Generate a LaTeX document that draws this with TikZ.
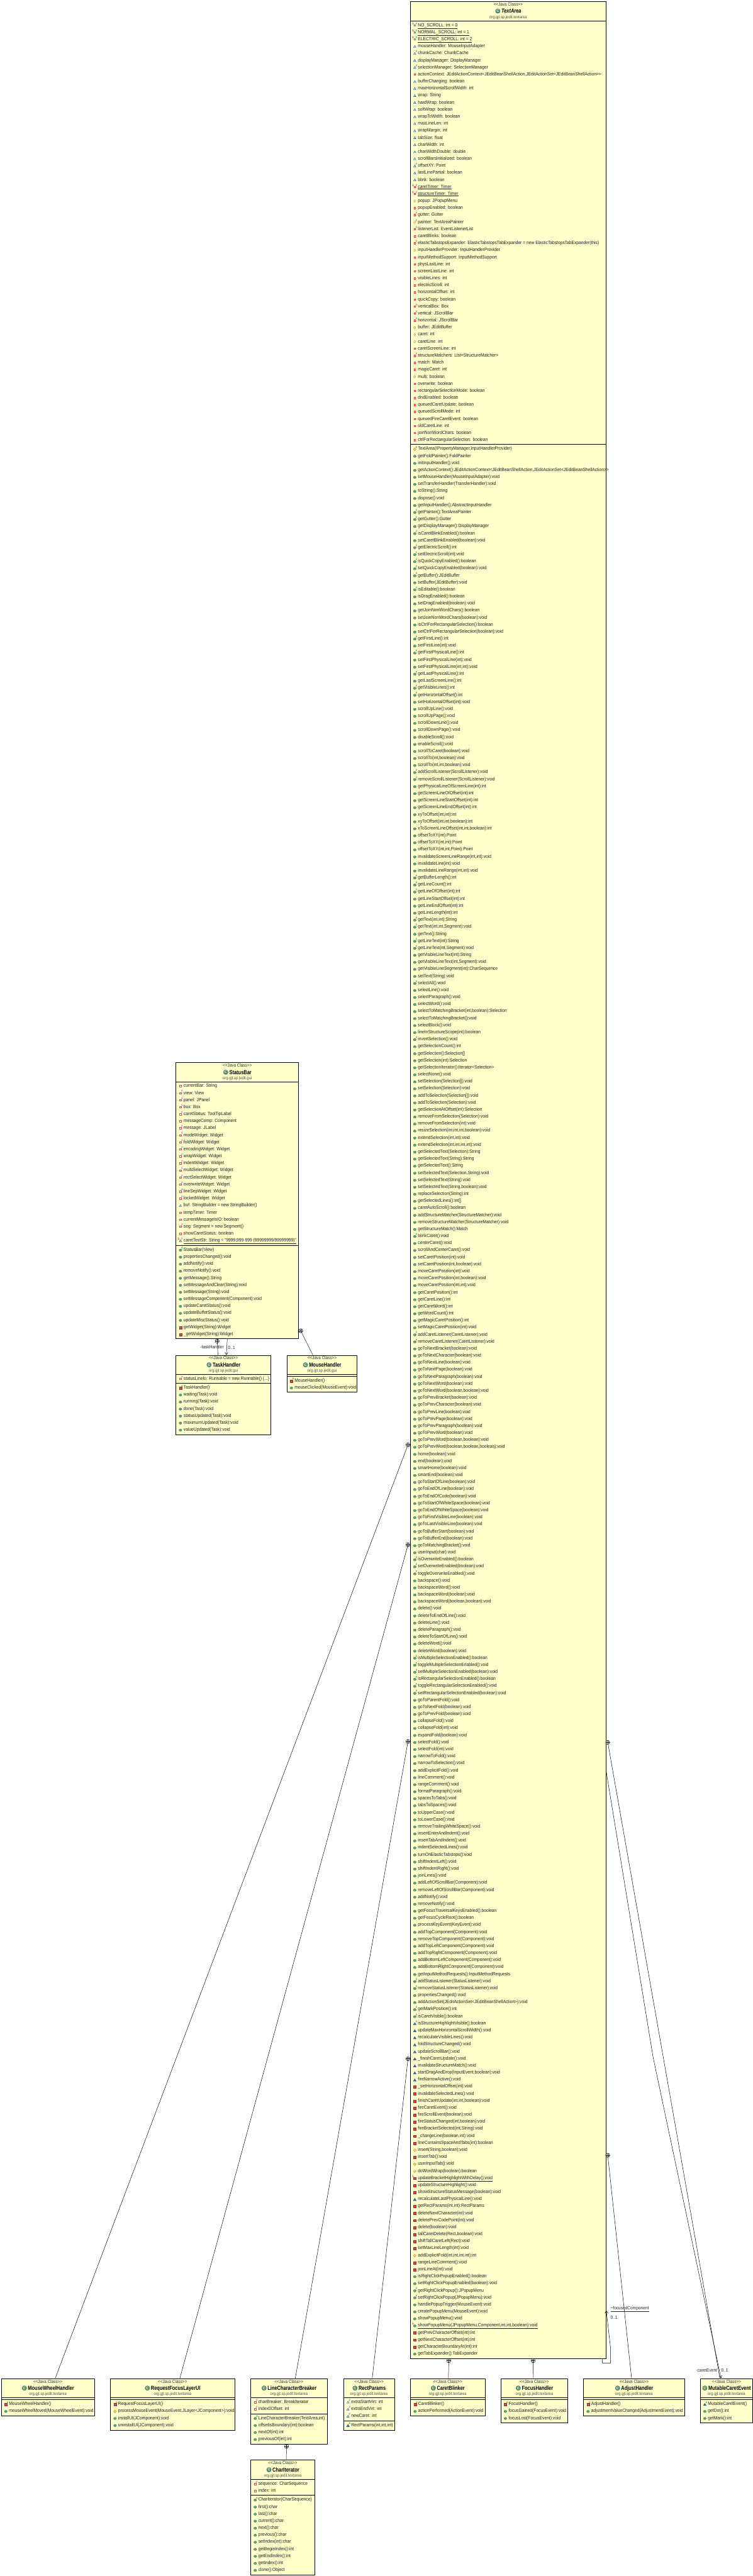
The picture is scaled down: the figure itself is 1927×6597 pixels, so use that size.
\documentclass[tikz,border=0pt]{standalone}
\usepackage{fontspec}
\setmainfont{Liberation Sans}
\usetikzlibrary{arrows.meta}

\definecolor{boxyellow}{RGB}{255,255,204}
\definecolor{pubgreen}{RGB}{96,164,124}
\definecolor{pubedge}{RGB}{44,120,84}
\definecolor{prired}{RGB}{226,64,84}
\definecolor{priedge}{RGB}{176,32,56}
\definecolor{pkgblue}{RGB}{44,110,180}
\definecolor{proorange}{RGB}{250,204,100}
\definecolor{proedge}{RGB}{200,140,30}
\definecolor{flagblue}{RGB}{40,90,190}
\definecolor{flagred}{RGB}{200,0,80}
\definecolor{flaggreen}{RGB}{0,140,70}

\tikzset{
  classbox/.style={draw, line width=1.2pt, fill=boxyellow, anchor=north west, inner sep=0pt},
  classline/.style={line width=1.1pt},
  membertext/.style={anchor=base west, inner sep=0pt, text=black!88, font=\fontsize{10.8}{12}\selectfont},
  kindtext/.style={anchor=base, inner sep=0pt, text=black!80, font=\fontsize{10.3}{12}\selectfont},
  titletext/.style={anchor=base, inner sep=0pt, font=\fontsize{12}{14}\selectfont\bfseries},
  pkgtext/.style={anchor=base, inner sep=0pt, text=black!70, font=\fontsize{9.5}{11}\selectfont},
  classicon/.style={circle, draw=pubedge, fill=pubgreen!85!black, inner sep=0pt, minimum size=12pt, text=white, font=\fontsize{9}{9}\selectfont\bfseries},
  iconflag/.style={inner sep=0pt, font=\fontsize{7.5}{8}\selectfont},
  nestmark/.style={circle, draw, inner sep=0pt, minimum size=10.5pt, line width=0.8pt,
    path picture={\draw [line width=0.7pt] (path picture bounding box.north) -- (path picture bounding box.south)
      (path picture bounding box.west) -- (path picture bounding box.east);}},
  nestline/.style={line width=0.8pt},
  assocline/.style={line width=0.8pt, -{Straight Barb[length=6pt,width=8pt]}},
  linklabel/.style={inner sep=0pt, text=black!85, font=\fontsize{10.6}{12}\selectfont},
}

\newcommand{\vstretch}[1]{\scalebox{1}[1.12]{#1}}

% method icons
\newcommand{\icoum}{\filldraw [fill=pubgreen, draw=pubedge, line width=0.5pt] (0,1.5) circle [x radius=3.6, y radius=3.1];}
\newcommand{\icopm}{\filldraw [fill=prired, draw=priedge, line width=0.5pt] (-3.2,-1.6) rectangle (3.2,4.6);}
\newcommand{\icokm}{\filldraw [fill=pkgblue, draw=pkgblue!80!black, line width=0.5pt] (-3.8,4.6) -- (0,-1.5) -- (3.8,4.6) -- cycle;}
\newcommand{\icoom}{\filldraw [fill=proorange, draw=proedge, line width=0.5pt] (-3.8,1.5) -- (0,-2.3) -- (3.8,1.5) -- (0,5.3) -- cycle;}
% field icons
\newcommand{\icopf}{\filldraw [fill=white, draw=prired, line width=1.2pt] (-2,-1) rectangle (2,3);}
\newcommand{\icokf}{\filldraw [fill=white, draw=pkgblue, line width=1pt] (-2.8,3.2) -- (0,-1.6) -- (2.8,3.2) -- cycle;}
\newcommand{\icoof}{\filldraw [fill=white, draw=proedge, line width=0.8pt] (-2.8,1) -- (0,-2) -- (2.8,1) -- (0,4) -- cycle;}
\newcommand{\icouf}{\filldraw [fill=white, draw=pubedge, line width=1pt] (0,1) circle [radius=2.3];}
% flags
\newcommand{\flagF}{\node (\rowid-F) [iconflag, text=flagblue] at (4.6,-3.6) {F};}
\newcommand{\flagS}{\node (\rowid-S) [iconflag, text=flagred] at (-4.6,-3.6) {S};}
\newcommand{\flagC}{\node (\rowid-C) [iconflag, text=flaggreen, font=\fontsize{7.5}{8}\selectfont\bfseries] at (4.6,-3.6) {c};}
% icon plus flags
\newcommand{\icopfF}{\icopf\flagF}
\newcommand{\icokfF}{\icokf\flagF}
\newcommand{\icoofF}{\icoof\flagF}
\newcommand{\icopfSF}{\icopf\flagS\flagF}
\newcommand{\icokfSF}{\icokf\flagS\flagF}
\newcommand{\icoufSF}{\icouf\flagS\flagF}
\newcommand{\icoumF}{\icoum\flagF}
\newcommand{\icoumC}{\icoum\flagC}
\newcommand{\icoumS}{\icoum\flagS}
\newcommand{\icokmF}{\icokm\flagF}
\newcommand{\icokmC}{\icokm\flagC}
\newcommand{\icopmC}{\icopm\flagC}
\newcommand{\icopmS}{\icopm\flagS}
\newcommand{\icoomC}{\icoom\flagC}

% name, left, top, width, height, title, package
\newcommand{\classbox}[7]{
  \node (#1) [classbox, minimum width=#4pt, minimum height=#5pt] at (#2,#3) {};
  \node (#1-kind) [kindtext] at ([yshift=-12pt]#1.north) {\vstretch{<{}<Java Class>{}>}};
  \node (#1-title) [titletext] at ([xshift=8pt,yshift=-30.5pt]#1.north) {\scalebox{1}[1.24]{#6}};
  \node (#1-icon) [classicon] at ([xshift=-9pt,yshift=5.2pt]#1-title.base west) {C};
  \node (#1-pkg) [pkgtext] at ([yshift=-44pt]#1.north) {\vstretch{#7}};
}
\newcommand{\divider}[2]{\draw [classline] ([yshift=-#2pt]#1.north west) -- ([yshift=-#2pt]#1.north east);}
% row name, left of box, y of first row, rows
\newcommand{\classrows}[4]{
  \foreach \ic/\tx [count=\n] in {#4}{
    \def\rowid{#1-\n}
    \begin{scope}[shift={({#2+12},{#3+18*(\n-1)})}]
      \csname ico\ic\endcsname
      \node (\rowid) [membertext] at (8,4) {\vstretch{\tx}};
    \end{scope}
  }
}

\begin{document}
\begin{tikzpicture}[x=1pt,y=-1pt]
  \useasboundingbox (0,0) rectangle (1927,6597);

  \classbox{TextArea}{1050}{3}{501}{6036}{\itshape TextArea}{org.gjt.sp.jedit.textarea}
  \divider{TextArea}{50.5}
  \divider{TextArea}{1135}
  \classrows{TextArea-f}{1050}{64}{
    ufSF/\underline{NO\_SCROLL: int = 0}, ufSF/\underline{NORMAL\_SCROLL: int = 1}, ufSF/\underline{ELECTRIC\_SCROLL: int = 2},
    kf/mouseHandler: MouseInputAdapter, kfF/chunkCache: ChunkCache, kf/displayManager: DisplayManager,
    kfF/selectionManager: SelectionManager,
    pf/{actionContext: JEditActionContext<JEditBeanShellAction,JEditActionSet<JEditBeanShellAction>{}>},
    kf/bufferChanging: boolean, kf/maxHorizontalScrollWidth: int, kf/wrap: String, kf/hardWrap: boolean,
    kf/softWrap: boolean, kf/wrapToWidth: boolean, kf/maxLineLen: int, kf/wrapMargin: int, kf/tabSize: float,
    kf/charWidth: int, kf/charWidthDouble: double, kf/scrollBarsInitialized: boolean, kfF/offsetXY: Point,
    kf/lastLinePartial: boolean, kf/blink: boolean, pfSF/\underline{caretTimer: Timer}, pfSF/\underline{structureTimer: Timer},
    of/popup: JPopupMenu, pf/popupEnabled: boolean, pfF/gutter: Gutter, ofF/painter: TextAreaPainter,
    pfF/listenerList: EventListenerList, pf/caretBlinks: boolean,
    pfF/elasticTabstopsExpander: ElasticTabstopsTabExpander = new ElasticTabstopsTabExpander(this),
    of/inputHandlerProvider: InputHandlerProvider, pf/inputMethodSupport: InputMethodSupport,
    pf/physLastLine: int, pf/screenLastLine: int, pf/visibleLines: int, pf/electricScroll: int,
    pf/horizontalOffset: int, pf/quickCopy: boolean, pfF/verticalBox: Box, pfF/vertical: JScrollBar,
    pfF/horizontal: JScrollBar, of/buffer: JEditBuffer, of/caret: int, of/caretLine: int, pf/caretScreenLine: int,
    pfF/structureMatchers: List<StructureMatcher>, pf/match: Match, pf/magicCaret: int, of/multi: boolean,
    pf/overwrite: boolean, pf/rectangularSelectionMode: boolean, pf/dndEnabled: boolean,
    pf/queuedCaretUpdate: boolean, pf/queuedScrollMode: int, pf/queuedFireCaretEvent: boolean,
    pf/oldCaretLine: int, pf/joinNonWordChars: boolean, pf/ctrlForRectangularSelection: boolean}
  \classrows{TextArea-m}{1050}{1149}{
    omC/{TextArea(IPropertyManager,InputHandlerProvider)}, um/getFoldPainter():FoldPainter, um/initInputHandler():void,
    um/{getActionContext():JEditActionContext<JEditBeanShellAction,JEditActionSet<JEditBeanShellAction>{}>},
    um/setMouseHandler(MouseInputAdapter):void, um/setTransferHandler(TransferHandler):void, um/toString():String,
    um/dispose():void, um/getInputHandler():AbstractInputHandler, umF/getPainter():TextAreaPainter, umF/getGutter():Gutter,
    um/getDisplayManager():DisplayManager, umF/isCaretBlinkEnabled():boolean, um/setCaretBlinkEnabled(boolean):void,
    umF/getElectricScroll():int, umF/setElectricScroll(int):void, umF/isQuickCopyEnabled():boolean,
    umF/setQuickCopyEnabled(boolean):void, umF/getBuffer():JEditBuffer, um/setBuffer(JEditBuffer):void,
    umF/isEditable():boolean, um/isDragEnabled():boolean, um/setDragEnabled(boolean):void,
    um/getJoinNonWordChars():boolean, um/setJoinNonWordChars(boolean):void, um/isCtrlForRectangularSelection():boolean,
    um/setCtrlForRectangularSelection(boolean):void, umF/getFirstLine():int, um/setFirstLine(int):void,
    umF/getFirstPhysicalLine():int, um/setFirstPhysicalLine(int):void, um/{setFirstPhysicalLine(int,int):void},
    umF/getLastPhysicalLine():int, um/getLastScreenLine():int, umF/getVisibleLines():int, umF/getHorizontalOffset():int,
    um/setHorizontalOffset(int):void, um/scrollUpLine():void, um/scrollUpPage():void, um/scrollDownLine():void,
    um/scrollDownPage():void, um/disableScroll():void, um/enableScroll():void, um/scrollToCaret(boolean):void,
    um/{scrollTo(int,boolean):void}, um/{scrollTo(int,int,boolean):void}, umF/addScrollListener(ScrollListener):void,
    umF/removeScrollListener(ScrollListener):void, um/getPhysicalLineOfScreenLine(int):int, um/getScreenLineOfOffset(int):int,
    um/getScreenLineStartOffset(int):int, um/getScreenLineEndOffset(int):int, um/{xyToOffset(int,int):int},
    um/{xyToOffset(int,int,boolean):int}, um/{xToScreenLineOffset(int,int,boolean):int}, um/offsetToXY(int):Point,
    um/{offsetToXY(int,int):Point}, um/{offsetToXY(int,int,Point):Point}, um/{invalidateScreenLineRange(int,int):void},
    um/invalidateLine(int):void, um/{invalidateLineRange(int,int):void}, umF/getBufferLength():int, umF/getLineCount():int,
    umF/getLineOfOffset(int):int, um/getLineStartOffset(int):int, um/getLineEndOffset(int):int, um/getLineLength(int):int,
    umF/{getText(int,int):String}, umF/{getText(int,int,Segment):void}, um/getText():String, umF/getLineText(int):String,
    umF/{getLineText(int,Segment):void}, um/getVisibleLineText(int):String, um/{getVisibleLineText(int,Segment):void},
    um/getVisibleLineSegment(int):CharSequence, um/setText(String):void, umF/selectAll():void, um/selectLine():void,
    um/selectParagraph():void, um/selectWord():void, um/{selectToMatchingBracket(int,boolean):Selection},
    um/selectToMatchingBracket():void, um/selectBlock():void, um/lineInStructureScope(int):boolean,
    umF/invertSelection():void, um/getSelectionCount():int, um/getSelection():Selection[], um/getSelection(int):Selection,
    um/getSelectionIterator():Iterator<Selection>, um/selectNone():void, um/setSelection(Selection[]):void,
    um/setSelection(Selection):void, um/addToSelection(Selection[]):void, um/addToSelection(Selection):void,
    um/getSelectionAtOffset(int):Selection, um/removeFromSelection(Selection):void, um/removeFromSelection(int):void,
    um/{resizeSelection(int,int,int,boolean):void}, um/{extendSelection(int,int):void}, um/{extendSelection(int,int,int,int):void},
    um/getSelectedText(Selection):String, um/getSelectedText(String):String, um/getSelectedText():String,
    um/{setSelectedText(Selection,String):void}, um/setSelectedText(String):void, um/{setSelectedText(String,boolean):void},
    um/replaceSelection(String):int, um/getSelectedLines():int[], um/caretAutoScroll():boolean,
    um/addStructureMatcher(StructureMatcher):void, um/removeStructureMatcher(StructureMatcher):void,
    um/getStructureMatch():Match, umF/blinkCaret():void, um/centerCaret():void, um/scrollAndCenterCaret():void,
    um/setCaretPosition(int):void, um/{setCaretPosition(int,boolean):void}, um/moveCaretPosition(int):void,
    um/{moveCaretPosition(int,boolean):void}, um/{moveCaretPosition(int,int):void}, um/getCaretPosition():int,
    um/getCaretLine():int, um/getCaretWord():int, um/getWordCount():int, um/getMagicCaretPosition():int,
    um/setMagicCaretPosition(int):void, umF/addCaretListener(CaretListener):void, umF/removeCaretListener(CaretListener):void,
    um/goToNextBracket(boolean):void, um/goToNextCharacter(boolean):void, um/goToNextLine(boolean):void,
    um/goToNextPage(boolean):void, um/goToNextParagraph(boolean):void, um/goToNextWord(boolean):void,
    um/{goToNextWord(boolean,boolean):void}, um/goToPrevBracket(boolean):void, um/goToPrevCharacter(boolean):void,
    um/goToPrevLine(boolean):void, um/goToPrevPage(boolean):void, um/goToPrevParagraph(boolean):void,
    um/goToPrevWord(boolean):void, um/{goToPrevWord(boolean,boolean):void}, um/{goToPrevWord(boolean,boolean,boolean):void},
    um/home(boolean):void, um/end(boolean):void, um/smartHome(boolean):void, um/smartEnd(boolean):void,
    um/goToStartOfLine(boolean):void, um/goToEndOfLine(boolean):void, um/goToEndOfCode(boolean):void,
    um/goToStartOfWhiteSpace(boolean):void, um/goToEndOfWhiteSpace(boolean):void, um/goToFirstVisibleLine(boolean):void,
    um/goToLastVisibleLine(boolean):void, um/goToBufferStart(boolean):void, um/goToBufferEnd(boolean):void,
    um/goToMatchingBracket():void, um/userInput(char):void, umF/isOverwriteEnabled():boolean,
    umF/setOverwriteEnabled(boolean):void, umF/toggleOverwriteEnabled():void, um/backspace():void, um/backspaceWord():void,
    um/backspaceWord(boolean):void, um/{backspaceWord(boolean,boolean):void}, um/delete():void, um/deleteToEndOfLine():void,
    um/deleteLine():void, um/deleteParagraph():void, um/deleteToStartOfLine():void, um/deleteWord():void,
    um/deleteWord(boolean):void, umF/isMultipleSelectionEnabled():boolean, umF/toggleMultipleSelectionEnabled():void,
    umF/setMultipleSelectionEnabled(boolean):void, umF/isRectangularSelectionEnabled():boolean,
    umF/toggleRectangularSelectionEnabled():void, umF/setRectangularSelectionEnabled(boolean):void,
    um/goToParentFold():void, um/goToNextFold(boolean):void, um/goToPrevFold(boolean):void, um/collapseFold():void,
    um/collapseFold(int):void, um/expandFold(boolean):void, um/selectFold():void, um/selectFold(int):void,
    um/narrowToFold():void, um/narrowToSelection():void, um/addExplicitFold():void, um/lineComment():void,
    um/rangeComment():void, um/formatParagraph():void, um/spacesToTabs():void, um/tabsToSpaces():void,
    um/toUpperCase():void, um/toLowerCase():void, um/removeTrailingWhiteSpace():void, um/insertEnterAndIndent():void,
    um/insertTabAndIndent():void, um/indentSelectedLines():void, um/turnOnElasticTabstops():void, um/shiftIndentLeft():void,
    um/shiftIndentRight():void, um/joinLines():void, um/addLeftOfScrollBar(Component):void,
    um/removeLeftOfScrollBar(Component):void, um/addNotify():void, um/removeNotify():void,
    um/getFocusTraversalKeysEnabled():boolean, um/getFocusCycleRoot():boolean, um/processKeyEvent(KeyEvent):void,
    um/addTopComponent(Component):void, um/removeTopComponent(Component):void, um/addTopLeftComponent(Component):void,
    um/addTopRightComponent(Component):void, um/addBottomLeftComponent(Component):void,
    um/addBottomRightComponent(Component):void, um/getInputMethodRequests():InputMethodRequests,
    umF/addStatusListener(StatusListener):void, umF/removeStatusListener(StatusListener):void, um/propertiesChanged():void,
    um/addActionSet(JEditActionSet<JEditBeanShellAction>):void, umF/getMarkPosition():int, umF/isCaretVisible():boolean,
    kmF/isStructureHighlightVisible():boolean, km/updateMaxHorizontalScrollWidth():void, km/recalculateVisibleLines():void,
    km/foldStructureChanged():void, km/updateScrollBar():void, km/\_finishCaretUpdate():void,
    km/invalidateStructureMatch():void, km/{startDragAndDrop(InputEvent,boolean):void}, km/fireNarrowActive():void,
    pm/\_setHorizontalOffset(int):void, pm/invalidateSelectedLines():void, pm/{finishCaretUpdate(int,int,boolean):void},
    pm/fireCaretEvent():void, pm/fireScrollEvent(boolean):void, pm/{fireStatusChanged(int,boolean):void},
    pm/{fireBracketSelected(int,String):void}, pm/{\_changeLine(boolean,int):void}, pm/lineContainsSpaceAndTabs(int):boolean,
    om/{insert(String,boolean):void}, pm/insertTab():void, om/userInputTab():void, om/doWordWrap(boolean):boolean,
    pmS/\underline{updateBracketHighlightWithDelay():void}, pm/updateStructureHighlight():void,
    pm/showStructureStatusMessage(boolean):void, km/recalculateLastPhysicalLine():void, pm/{getRectParams(int,int):RectParams},
    pm/deleteNextCharacter(int):void, pm/deletePrevCodePoint(int):void, pm/delete(boolean):void,
    pm/{tallCaretDelete(Rect,boolean):void}, pm/shiftTallCaretLeft(Rect):void, pm/setMaxLineLength(int):void,
    om/{addExplicitFold(int,int,int,int):int}, pm/rangeLineComment():void, pm/joinLineAt(int):void,
    um/isRightClickPopupEnabled():boolean, um/setRightClickPopupEnabled(boolean):void, umF/getRightClickPopup():JPopupMenu,
    umF/setRightClickPopup(JPopupMenu):void, um/handlePopupTrigger(MouseEvent):void, um/createPopupMenu(MouseEvent):void,
    um/showPopupMenu():void, umS/{\underline{showPopupMenu(JPopupMenu,Component,int,int,boolean):void}},
    pm/getPrevCharacterOffset(int):int, pm/getNextCharacterOffset(int):int, pm/getCharacterBoundaryAt(int):int,
    um/getTabExpander():TabExpander}

  \classbox{StatusBar}{450}{2720.5}{314}{707.5}{StatusBar}{org.gjt.sp.jedit.gui}
  \divider{StatusBar}{49.5}
  \divider{StatusBar}{468.5}
  \classrows{StatusBar-f}{450}{2780.5}{
    pf/currentBar: String, pfF/view: View, pfF/panel: JPanel, pfF/box: Box, pfF/caretStatus: ToolTipLabel,
    pf/messageComp: Component, pfF/message: JLabel, pfF/modeWidget: Widget, pfF/foldWidget: Widget,
    pfF/encodingWidget: Widget, pfF/wrapWidget: Widget, pfF/indentWidget: Widget, pfF/multiSelectWidget: Widget,
    pfF/rectSelectWidget: Widget, pfF/overwriteWidget: Widget, pfF/lineSepWidget: Widget, pfF/lockedWidget: Widget,
    kf/buf: StringBuilder = new StringBuilder(), pf/tempTimer: Timer, pf/currentMessageIsIO: boolean,
    pfF/seg: Segment = new Segment(), pf/showCaretStatus: boolean,
    kfSF/{\underline{caretTestStr: String = \char34\relax 9999,999-999 (99999999/99999999)\char34\relax}}}
  \classrows{StatusBar-m}{450}{3200}{
    umC/StatusBar(View), um/propertiesChanged():void, um/addNotify():void, um/removeNotify():void, um/getMessage():String,
    um/setMessageAndClear(String):void, um/setMessage(String):void, um/setMessageComponent(Component):void,
    um/updateCaretStatus():void, um/updateBufferStatus():void, um/updateMiscStatus():void,
    pm/getWidget(String):Widget, pm/\_getWidget(String):Widget}

  \classbox{TaskHandler}{450}{3470}{243}{203}{TaskHandler}{org.gjt.sp.jedit.gui}
  \divider{TaskHandler}{50}
  \divider{TaskHandler}{72}
  \classrows{TaskHandler-f}{450}{3530}{pfF/{statusLineIo: Runnable = new Runnable() \{.{}.{}.\}}}
  \classrows{TaskHandler-m}{450}{3553}{
    pmC/TaskHandler(), um/waiting(Task):void, um/running(Task):void, um/done(Task):void, um/statusUpdated(Task):void,
    um/maximumUpdated(Task):void, um/valueUpdated(Task):void}

  \classbox{MouseHandler}{734}{3470}{180}{95}{MouseHandler}{org.gjt.sp.jedit.gui}
  \divider{MouseHandler}{50}
  \divider{MouseHandler}{55}
  \classrows{MouseHandler-m}{734}{3535}{pmC/MouseHandler(), um/mouseClicked(MouseEvent):void}

  \classbox{MouseWheelHandler}{3}{6090.5}{238}{96}{MouseWheelHandler}{org.gjt.sp.jedit.textarea}
  \divider{MouseWheelHandler}{50}
  \divider{MouseWheelHandler}{55}
  \classrows{MouseWheelHandler-m}{3}{6156}{pmC/MouseWheelHandler(), um/mouseWheelMoved(MouseWheelEvent):void}

  \classbox{RequestFocusLayerUI}{282.5}{6090.5}{317.5}{132}{RequestFocusLayerUI}{org.gjt.sp.jedit.textarea}
  \divider{RequestFocusLayerUI}{50}
  \divider{RequestFocusLayerUI}{55}
  \classrows{RequestFocusLayerUI-m}{282.5}{6156}{
    pmC/RequestFocusLayerUI(), om/{processMouseEvent(MouseEvent,JLayer<JComponent>):void},
    um/installUI(JComponent):void, um/uninstallUI(JComponent):void}

  \classbox{LineCharacterBreaker}{641.5}{6090.5}{195.5}{167.5}{LineCharacterBreaker}{org.gjt.sp.jedit.textarea}
  \divider{LineCharacterBreaker}{50}
  \divider{LineCharacterBreaker}{91}
  \classrows{LineCharacterBreaker-f}{641.5}{6151}{pfF/charBreaker: BreakIterator, pfF/index0Offset: int}
  \classrows{LineCharacterBreaker-m}{641.5}{6192}{
    umC/{LineCharacterBreaker(TextArea,int)}, um/offsetIsBoundary(int):boolean, um/nextOf(int):int, um/previousOf(int):int}

  \classbox{CharIterator}{641.5}{6299.5}{164}{293.5}{CharIterator}{org.gjt.sp.jedit.textarea}
  \divider{CharIterator}{50}
  \divider{CharIterator}{91}
  \classrows{CharIterator-f}{641.5}{6360.5}{pfF/sequence: CharSequence, pf/index: int}
  \classrows{CharIterator-m}{641.5}{6401}{
    umC/CharIterator(CharSequence), um/first():char, um/last():char, um/current():char, um/next():char, um/previous():char,
    um/setIndex(int):char, um/getBeginIndex():int, um/getEndIndex():int, um/getIndex():int, um/clone():Object}

  \classbox{RectParams}{879}{6090.5}{130.5}{132}{RectParams}{org.gjt.sp.jedit.textarea}
  \divider{RectParams}{50}
  \divider{RectParams}{108.5}
  \classrows{RectParams-f}{879}{6151}{kfF/extraStartVirt: int, kfF/extraEndVirt: int, kfF/newCaret: int}
  \classrows{RectParams-m}{879}{6210}{kmC/{RectParams(int,int,int)}}

  \classbox{CaretBlinker}{1050.5}{6090.5}{190.5}{96}{CaretBlinker}{org.gjt.sp.jedit.textarea}
  \divider{CaretBlinker}{50}
  \divider{CaretBlinker}{55}
  \classrows{CaretBlinker-m}{1050.5}{6156}{pmC/CaretBlinker(), um/actionPerformed(ActionEvent):void}

  \classbox{FocusHandler}{1282}{6090.5}{171}{114}{FocusHandler}{org.gjt.sp.jedit.textarea}
  \divider{FocusHandler}{50}
  \divider{FocusHandler}{55}
  \classrows{FocusHandler-m}{1282}{6156}{pmC/FocusHandler(), um/focusGained(FocusEvent):void, um/focusLost(FocusEvent):void}

  \classbox{AdjustHandler}{1493.5}{6090.5}{258.5}{96}{AdjustHandler}{org.gjt.sp.jedit.textarea}
  \divider{AdjustHandler}{50}
  \divider{AdjustHandler}{55}
  \classrows{AdjustHandler-m}{1493.5}{6156}{pmC/AdjustHandler(), um/adjustmentValueChanged(AdjustmentEvent):void}

  \classbox{MutableCaretEvent}{1792.5}{6090.5}{134}{114}{MutableCaretEvent}{org.gjt.sp.jedit.textarea}
  \divider{MutableCaretEvent}{50}
  \divider{MutableCaretEvent}{55}
  \classrows{MutableCaretEvent-m}{1792.5}{6156}{kmC/MutableCaretEvent(), um/getDot():int, um/getMark():int}

  % nesting marks
  \node (nestWheel) [nestmark] at (1044.5,3700) {};
  \node (nestLayer) [nestmark] at (1044.5,3956) {};
  \node (nestBreaker) [nestmark] at (1044.5,4460) {};
  \node (nestRect) [nestmark] at (1044.5,5272.5) {};
  \node (nestBlinker) [nestmark] at (1149,6045.5) {};
  \node (nestFocus) [nestmark] at (1365,6045.5) {};
  \node (nestAdjust) [nestmark] at (1556,5519.5) {};
  \node (nestCaretEvent) [nestmark] at (1556,4462) {};
  \node (nestCharIt) [nestmark] at (733.5,6265) {};
  \node (nestTask) [nestmark] at (556,3434.5) {};
  \node (nestMouse) [nestmark] at (770,3408) {};

  \coordinate (endWheel) at (141.5,6090.5);
  \coordinate (endLayer) at (460.5,6090.5);
  \coordinate (endBreaker) at (756,6090.5);
  \coordinate (endRect) at (953,6090.5);
  \coordinate (endBlinker) at (1148,6090.5);
  \coordinate (endFocus) at (1365.5,6090.5);
  \coordinate (endAdjust) at (1617,6090.5);
  \coordinate (endCaretEvent) at (1843,6090.5);
  \coordinate (endCharIt) at (733,6299.5);
  \coordinate (endTask) at (558,3470);
  \coordinate (endMouse) at (801,3470);

  \draw [nestline] (nestWheel) -- (endWheel);
  \draw [nestline] (nestLayer) -- (endLayer);
  \draw [nestline] (nestBreaker) -- (endBreaker);
  \draw [nestline] (nestRect) -- (endRect);
  \draw [nestline] (nestBlinker) -- (endBlinker);
  \draw [nestline] (nestFocus) -- (endFocus);
  \draw [nestline] (nestAdjust) -- (endAdjust);
  \draw [nestline] (nestCaretEvent) -- (endCaretEvent);
  \draw [nestline] (nestCharIt) -- (endCharIt);
  \draw [nestline] (nestTask) -- (endTask);
  \draw [nestline] (nestMouse) -- (endMouse);

  % associations
  \coordinate (taskFrom) at (582,3428);
  \coordinate (taskTo) at (579.5,3470);
  \draw [assocline] (taskFrom) -- (taskTo);
  \coordinate (caretFrom) at (1552,4536);
  \coordinate (caretBend) at (1672,5268);
  \coordinate (caretTo) at (1846,6090.5);
  \draw [assocline] (caretFrom) -- (caretBend) -- (caretTo);
  \draw [assocline] ([xshift=-10pt]TextArea.south east) -- ++(0,11.5) -- ++(21,0) -- ++(0,-38.5) -- ([yshift=123pt]TextArea.south east);

  \node (labelTask) [linklabel] at (543,3450) {\vstretch{-taskHandler}};
  \node (labelTaskMult) [linklabel] at (593,3451) {\vstretch{0..1}};
  \node (labelCaret) [linklabel] at (1809,6071) {\vstretch{-caretEvent}};
  \node (labelCaretMult) [linklabel] at (1855.5,6071) {\vstretch{0..1}};
  \node (labelFocus) [linklabel, anchor=west] at (1563,5913) {\vstretch{\underline{\textasciitilde focusedComponent}}};
  \node (labelFocusMult) [linklabel, anchor=west] at (1563,5935) {\vstretch{0..1}};
\end{tikzpicture}
\end{document}
